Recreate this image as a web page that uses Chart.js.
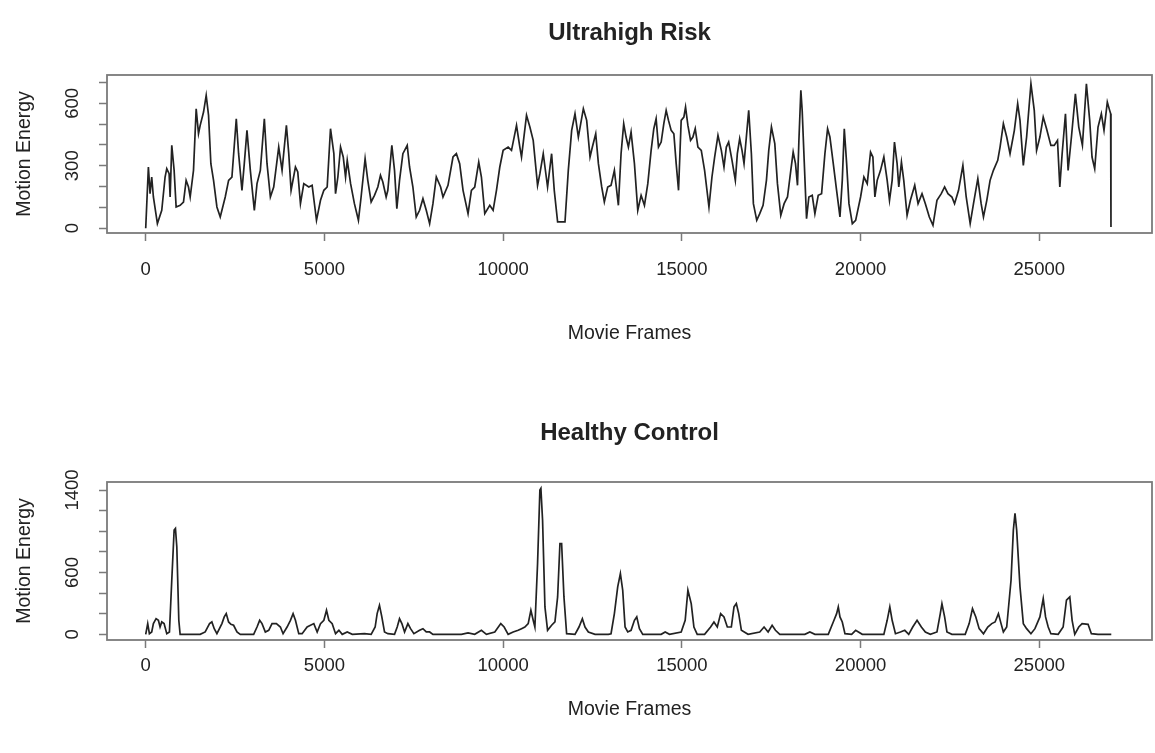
<!DOCTYPE html>
<html><head><meta charset="utf-8">
<script src="https://cdn.jsdelivr.net/npm/chart.js@4/dist/chart.umd.min.js"></script>
<style>
html,body{margin:0;padding:0;background:#fff;}
#wrap{position:relative;width:1155px;height:753px;background:#fff;}
canvas{position:absolute;left:0;}
</style></head><body>
<div id="wrap">
<canvas id="c1" width="1155" height="376" style="top:0px"></canvas>
<canvas id="c2" width="1155" height="377" style="top:376px"></canvas>
</div>
<script>
// ---- Ultrahigh Risk: movie frame -> motion energy ----
const uhrFrames = [0,75,122,168,215,327,449,542,589,655,683,729,795,851,963,1057,1131,1197,1244,1337,1412,1477,1524,1618,1692,1758,1823,1898,1992,2085,2225,2319,2412,2534,2599,2693,2758,2833,2927,3039,3114,3207,3319,3394,3488,3581,3721,3815,3936,4002,4067,4189,4254,4329,4423,4563,4656,4778,4890,4984,5077,5170,5264,5311,5376,5451,5526,5591,5638,5732,
5839,5951,6026,6138,6213,6307,6400,6494,6568,6634,6727,6774,6886,6961,7026,7101,7195,7316,7382,7475,7569,7662,7756,7849,7943,8036,8130,8251,8317,8457,8597,8691,8784,8878,9018,9112,9205,9317,9392,9486,9626,9719,9813,9906,10000,10140,10234,10374,10467,10514,10654,10748,10841,10963,11028,11122,11243,11356,11430,11524,11730,11823,11917,12010,12104,12244,12337,12431,12496,12590,12665,12758,12831,
12925,13018,13112,13224,13299,13373,13439,13504,13579,13673,13766,13860,13953,14047,14140,14215,14280,14346,14421,14495,14561,14626,14701,14776,14841,14907,14981,15056,15103,15169,15243,15309,15374,15449,15543,15636,15758,15842,15917,16010,16104,16178,16244,16309,16403,16496,16552,16618,16683,16739,16870,16945,17001,17095,17179,17272,17366,17431,17506,17600,17674,17768,17861,17955,18048,18114,18179,18235,18273,18329,18366,18422,18488,18553,18647,18722,18815,18909,19002,19077,19142,19236,19329,19423,19488,19544,19610,19675,19769,19862,
20000,20093,20186,20279,20344,20400,20465,20558,20651,20744,20809,20883,20948,21022,21069,21143,21208,21301,21394,21515,21608,21719,21812,21923,22025,22137,22258,22351,22444,22555,22629,22741,22862,22955,23066,23159,23280,23373,23438,23531,23623,23716,23837,23902,23995,24088,24181,24302,24395,24460,24553,24645,24766,24859,24924,25017,25110,25203,25324,25417,25509,25574,25639,25732,25806,25899,26010,26104,26206,26318,26410,26475,26550,26643,26736,26810,26903,26968,26996,27005];
const uhrEnergy = [0,294,166,246,150,22,86,246,286,262,150,398,278,102,110,126,230,198,150,278,574,454,494,558,638,542,310,230,102,54,150,230,246,526,358,182,310,470,278,86,214,278,526,310,150,198,390,278,494,358,182,294,270,118,214,198,206,38,134,182,198,478,358,166,246,390,342,246,326,214,
118,38,150,334,230,126,158,198,254,222,150,182,398,278,94,230,358,398,294,198,54,86,142,86,22,118,246,198,150,206,342,358,310,182,70,182,198,318,246,70,110,86,182,294,374,390,374,494,390,342,542,486,422,206,262,358,198,358,182,30,30,278,470,550,438,574,518,342,390,454,310,198,126,
198,206,278,110,358,502,438,390,462,310,86,158,110,214,374,478,526,390,414,502,566,518,470,454,310,182,518,534,582,494,422,438,478,390,374,278,102,246,342,446,374,294,390,414,326,230,358,430,374,310,566,358,118,38,70,110,230,374,486,406,214,62,118,150,278,366,310,206,414,662,566,326,46,150,158,70,158,166,358,478,438,310,182,54,230,478,310,118,22,38,
150,246,214,366,342,150,230,278,342,230,134,230,414,310,198,318,230,62,134,206,118,166,118,54,14,134,166,198,166,150,118,182,302,150,22,118,238,118,54,134,230,278,326,390,502,438,358,470,598,518,302,438,694,566,374,438,534,478,398,398,422,198,358,550,278,438,646,486,398,694,518,342,286,486,550,470,606,566,550,6];

// ---- Healthy Control: movie frame -> motion energy ----
const hcFrames = [0,56,103,168,215,290,355,402,449,514,589,664,729,795,832,870,926,963,1524,1664,1786,1851,1917,1992,2132,2197,2253,2319,2384,2459,2553,2646,3020,3114,3188,3254,3347,3441,3534,3656,3768,3843,3955,4049,4123,4189,4282,4376,4516,4703,4797,4890,4984,5058,5124,5217,5311,5405,5498,5638,5779,
6120,6307,6419,6475,6540,6606,6681,6774,6961,7036,7101,7167,7242,7335,7410,7503,7662,7756,7849,7943,8036,8831,9018,9205,9392,9532,9766,9934,10028,10140,10280,10420,10514,10607,10701,10776,10841,10888,10963,11028,11056,11103,11169,11243,11356,11449,11524,11589,11636,11701,11776,12010,12122,12216,12290,12384,12571,12945,
13018,13112,13205,13280,13345,13411,13486,13579,13673,13738,13813,13906,14421,14533,14654,14981,15093,15169,15262,15337,15430,15636,15804,15898,15991,16085,16178,16272,16384,16459,16524,16590,16665,16852,17179,17300,17413,17525,17618,17740,18441,18581,18722,19096,19236,19330,19376,19423,19488,19563,19750,19862,
20047,20651,20744,20818,20883,20976,21115,21236,21347,21459,21580,21700,21812,21951,22137,22230,22276,22351,22416,22555,22927,23038,23131,23224,23317,23438,23558,23670,23763,23856,23930,23995,24088,24209,24274,24320,24367,24460,24553,24645,24766,24878,25017,25110,25175,25249,25324,25528,25667,25760,25853,25918,25992,26104,26197,26364,26457,26643,27014];
const hcEnergy = [0,104,6,23,104,152,136,71,120,104,6,23,525,1011,1027,849,136,0,0,23,104,120,55,6,104,169,201,120,97,88,23,0,0,71,136,104,23,39,104,104,71,6,71,136,201,136,6,6,71,104,23,104,136,233,136,104,6,39,0,23,0,
6,0,71,201,282,169,23,6,0,71,152,104,23,104,55,6,39,55,23,23,0,0,13,0,39,0,23,104,71,0,23,39,55,71,104,233,136,71,687,1400,1416,1108,266,39,88,120,363,881,881,363,6,0,71,152,71,23,0,0,
6,201,460,590,428,71,23,39,136,169,55,0,0,23,0,23,136,428,298,71,0,0,71,120,71,201,169,71,71,266,298,201,39,0,23,71,23,88,39,0,0,23,0,0,120,201,266,169,120,6,0,39,
0,0,136,266,136,6,23,39,0,71,136,71,23,0,23,201,298,169,23,0,0,104,250,169,55,6,71,104,120,201,104,23,71,525,1011,1173,1011,460,104,55,6,55,169,347,169,71,6,0,71,331,363,136,0,71,104,97,6,0,0];

// ---- axis ticks and labels ----
const xTicks = [0, 5000, 10000, 15000, 20000, 25000];
const uhrYTicks = [0, 100, 200, 300, 400, 500, 600, 700];
const uhrYLabels = [0, 300, 600];
const hcYTicks = [0, 200, 400, 600, 800, 1000, 1200, 1400];
const hcYLabels = [0, 600, 1400];

const FAMILY = '"Liberation Sans", Arial, Helvetica, sans-serif';
const TEXT = '#222';
const AXISCOL = '#7a7a7a';

const boxPlugin = {
  id: 'box',
  afterDatasetsDraw(chart) {
    const {ctx, chartArea: a} = chart;
    ctx.save();
    ctx.strokeStyle = AXISCOL;
    ctx.lineWidth = 1.8;
    ctx.strokeRect(a.left, a.top, a.right - a.left, a.bottom - a.top);
    ctx.restore();
  }
};

function makeChart(id, title, frames, energy, yMin, yMax, yTicks, yLabels, L) {
  const pts = frames.map((f, i) => ({x: f, y: energy[i]}));
  const tickFont = {family: FAMILY, size: 18.5, lineHeight: 1.2};
  const labFont = {family: FAMILY, size: 19.5, lineHeight: 1.2};
  return new Chart(document.getElementById(id), {
    type: 'line',
    data: {datasets: [{data: pts, borderColor: '#222', borderWidth: 1.7, pointRadius: 0, tension: 0, fill: false}]},
    plugins: [boxPlugin],
    options: {
      responsive: false, animation: false, devicePixelRatio: 1,
      layout: {padding: {left: 0, right: 3, top: 0, bottom: 0}},
      plugins: {
        legend: {display: false}, tooltip: {enabled: false},
        title: {display: true, text: title, fullSize: false, color: TEXT,
          font: {family: FAMILY, size: 24, weight: 'bold', lineHeight: 1.2},
          padding: {top: L.titleTop, bottom: L.titleBottom}}
      },
      scales: {
        x: {
          type: 'linear', min: -1083, max: 28153,
          afterBuildTicks(s) { s.ticks = xTicks.map(v => ({value: v})); },
          afterFit(s) { s.height = L.xHeight; },
          border: {display: false},
          grid: {drawOnChartArea: false, drawTicks: true, tickLength: 8, tickColor: AXISCOL, tickWidth: 1.5},
          ticks: {autoSkip: false, maxRotation: 0, padding: L.xPad,
            font: tickFont, color: TEXT, callback: v => String(v)},
          title: {display: true, text: 'Movie Frames', color: TEXT, font: labFont, padding: {top: 0, bottom: L.xTitleBottom}}
        },
        y: {
          type: 'linear', min: yMin, max: yMax,
          afterBuildTicks(s) { s.ticks = yTicks.map(v => ({value: v})); },
          afterFit(s) { s.width = 107; },
          border: {display: false},
          grid: {drawOnChartArea: false, drawTicks: true, tickLength: 8, tickColor: AXISCOL, tickWidth: 1.5},
          ticks: {autoSkip: false, minRotation: 90, maxRotation: 90,
            crossAlign: 'center', padding: L.yPad, font: tickFont, color: TEXT,
            callback: v => yLabels.includes(v) ? String(v) : ''},
          title: {display: true, text: 'Motion Energy', color: TEXT, font: labFont, padding: {top: 13.3, bottom: 0}}
        }
      }
    }
  });
}

makeChart('c1', 'Ultrahigh Risk', uhrFrames, uhrEnergy, -23, 736, uhrYTicks, uhrYLabels,
  {titleTop: 18.6, titleBottom: 27.6, xHeight: 143, xPad: 17.9, xTitleBottom: 30.3, yPad: 10.6});
makeChart('c2', 'Healthy Control', hcFrames, hcEnergy, -55, 1478, hcYTicks, hcYLabels,
  {titleTop: 42.6, titleBottom: 34.6, xHeight: 113, xPad: 6.9, xTitleBottom: 31.3, yPad: 5.4});
</script>
</body></html>
